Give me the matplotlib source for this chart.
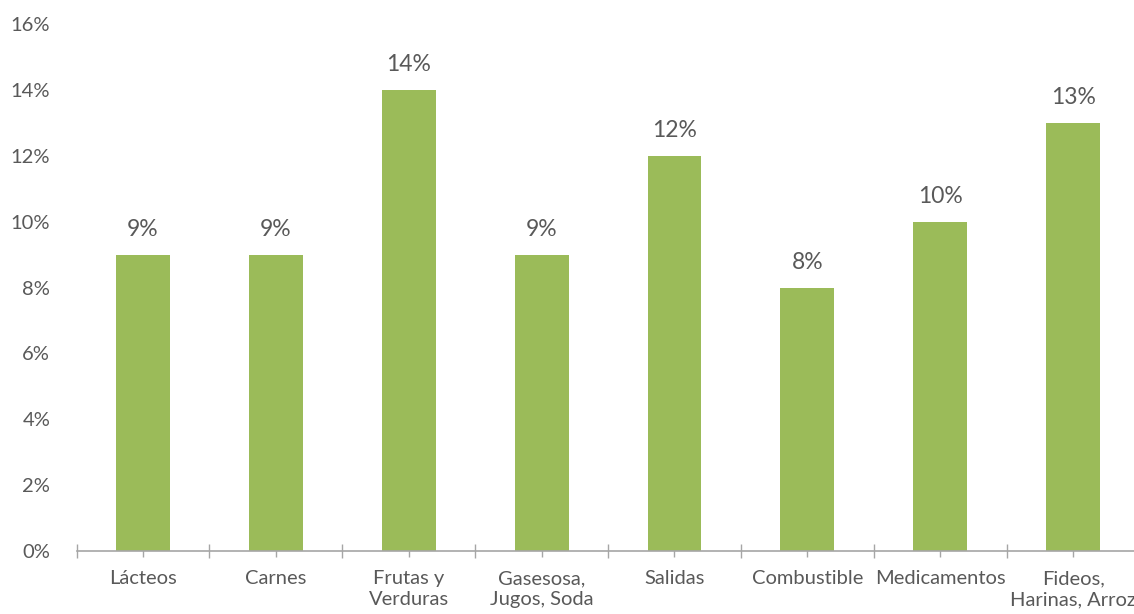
import numpy as np
import matplotlib
matplotlib.use("Agg")
import matplotlib.pyplot as plt
from matplotlib.ticker import FixedLocator

categorias = ["Lácteos", "Carnes", "Frutas y\nVerduras", "Gasesosa,\nJugos, Soda",
              "Salidas", "Combustible", "Medicamentos", "Fideos,\nHarinas, Arroz"]
valores = [9, 9, 14, 9, 12, 8, 10, 13]
yticks = [0, 2, 4, 6, 8, 10, 12, 14, 16]

plt.rcParams['font.family'] = ['Lato', 'DejaVu Sans']
gris = "#595959"

fig = plt.figure(figsize=(11.34, 6.14), dpi=100)
ax = fig.add_axes([0.0675, 0.1026, 0.9374, 0.8583])

x = np.arange(len(categorias))
bars = ax.bar(x, valores, width=0.405, color="#9BBB59", zorder=2)

for xi, v in zip(x, valores):
    ax.text(xi, v + 0.45, f"{v}%", ha="center", va="bottom", fontsize=16.5, color=gris)

ax.set_xlim(-0.5, len(categorias) - 0.5)
ax.set_ylim(0, 16)
ax.set_yticks(yticks)
ax.set_yticklabels([f"{t}%" for t in yticks], fontsize=14.5, color=gris)
ax.tick_params(axis="y", length=0, pad=19)

# category boundaries as major ticks, labels on minor ticks at centres
ax.xaxis.set_major_locator(FixedLocator(np.arange(-0.5, len(categorias), 1.0)))
ax.xaxis.set_minor_locator(FixedLocator(x))
ax.set_xticklabels([])
ax.set_xticks(x, minor=True)
ax.set_xticklabels(categorias, minor=True, fontsize=14.5, color=gris, linespacing=1.25)
ax.tick_params(axis="x", which="major", direction="inout", length=10, color="#A6A6A6", width=1)
ax.tick_params(axis="x", which="minor", direction="inout", length=8, color="#A6A6A6", width=1, pad=10)

for s in ["top", "right", "left"]:
    ax.spines[s].set_visible(False)
ax.spines["bottom"].set_color("#A6A6A6")
ax.spines["bottom"].set_linewidth(1.2)

fig.savefig("out.png", dpi=100)
